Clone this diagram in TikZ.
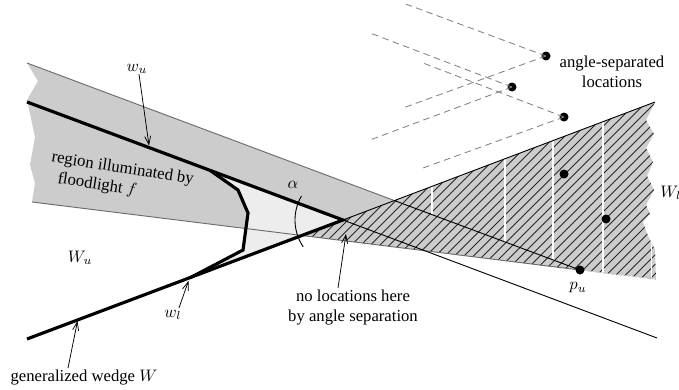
\documentclass[tikz,border=0pt]{standalone}
\usepackage{fontspec}
\setmainfont{Liberation Serif}
\usetikzlibrary{arrows.meta}
\definecolor{fl}{gray}{0.80}
\definecolor{lt}{gray}{0.93}
\definecolor{edgec}{gray}{0.42}
\definecolor{dsh}{gray}{0.50}
\begin{document}
\begin{tikzpicture}[x=0.6pt,y=-0.6pt,
  thickl/.style={line width=1.9pt, line join=miter},
  thinl/.style={line width=0.55pt},
  lbl/.style={font=\fontsize{10}{12}\selectfont, inner sep=0pt},
  arr/.style={line width=0.45pt, -{Straight Barb[length=5pt,width=3.6pt]}},
  dot/.style={circle, fill=black, inner sep=0pt, minimum size=5.4pt},
  dashl/.style={dsh, line width=0.5pt, dash pattern=on 4pt off 2.6pt},
  hatch/.style={black!85, line width=0.45pt},
  wline/.style={white, line width=0.7pt}]
\clip (0,0) rectangle (679,389);
% key points
\coordinate (pu) at (580,270);
\coordinate (apex) at (343,220);
\coordinate (P1) at (302,235.5);
\coordinate (Q) at (394.5,200.6);
\coordinate (WLend) at (655,102);
\coordinate (WLstart) at (27,339);
\coordinate (WUstart) at (27,102);
\coordinate (WUend) at (657,338);
\coordinate (BR) at (656,279.4);
\coordinate (FU) at (27,63);
\coordinate (FL) at (32,202);
\coordinate (K1) at (210,170.3);
\coordinate (K2) at (238,190);
\coordinate (K3) at (248,213);
\coordinate (K4) at (243,250);
\coordinate (K5) at (190,277.8);
% floodlight region
\fill[fl] (FU) -- (38,81) -- (27,100) -- (35,137) -- (30,165) -- (35,183) -- (FL) -- (pu) -- cycle;
% W_l region
\def\zig{(WLend) -- (646,120) -- (654,134) -- (646,148) -- (653,162) -- (647,176) -- (654,190) -- (646,205) -- (650,214) -- (643,222) -- (648,236) -- (655,250) -- (BR)}
\fill[fl] (P1) -- (apex) -- \zig -- (pu) -- cycle;
\begin{scope}
  \clip (P1) -- (apex) -- \zig -- (pu) -- cycle;
  \foreach \c in {530,539.5,...,950} \draw[hatch] (\c-300,300) -- (\c-80,80);
\end{scope}
% white seams
\draw[wline] (432,186.4) -- (432,214.6);
\draw[wline] (505,158.8) -- (505,241.9);
\draw[wline] (553,140.7) -- (553,259.9);
\draw[wline] (603,121.7) -- (603,272.9);
\draw[wline] (651.5,236) -- (651.5,279);
% lightly shaded part of the wedge
\fill[lt] (K1) -- (K2) -- (K3) -- (K4) -- (K5) -- (apex) -- cycle;
% floodlight edges
\draw[edgec, thinl] (FU) -- (Q);
\draw[thinl] (Q) -- (pu);
\draw[edgec, thinl] (FL) -- (pu);
\draw[gray!45, line width=0.5pt, dash pattern=on 3pt off 1.5pt] (pu) -- (BR);
% wedge lines
\draw[thinl] (apex) -- (WLend);
\draw[thinl] (apex) -- (WUend);
\draw[thickl] (WUstart) -- (apex) -- (WLstart);
\draw[thickl] (K1) -- (K2) -- (K3) -- (K4) -- (K5);
% alpha arc
\draw[thinl] (apex) ++(146:48) arc[start angle=146, end angle=210, radius=48];
% angle-separated locations
\node[dot] (d1) at (546,56) {};
\node[dot] (d2) at (512,87) {};
\node[dot] (d3) at (564,117) {};
\coordinate (e1a) at (403,3);
\coordinate (e1b) at (403,108);
\coordinate (e2a) at (370,33);
\coordinate (e2b) at (370,140);
\coordinate (e3a) at (423,63);
\coordinate (e3b) at (423,168);
\draw[dashl] (d1.center) -- (e1a);
\draw[dashl] (d1.center) -- (e1b);
\draw[dashl] (d2.center) -- (e2a);
\draw[dashl] (d2.center) -- (e2b);
\draw[dashl] (d3.center) -- (e3a);
\draw[dashl] (d3.center) -- (e3b);
\node[dot] (d4) at (564,174) {};
\node[dot] (d5) at (606,219) {};
\node[dot] (dpu) at (pu) {};
% labels
\node[lbl] (lwu) at (137,69) {$w_u$};
\node[lbl] (lalpha) at (293,185) {$\alpha$};
\node[lbl] (lWu) at (80,258) {$W_u$};
\node[lbl] (lwl) at (173,315) {$w_l$};
\node[lbl] (lW) at (84,378) {generalized wedge $W$};
\node[lbl, align=center] (lno) at (353,308) {no locations here\\by angle separation};
\node[lbl] (lpu) at (578,288) {$p_u$};
\node[lbl, anchor=west] (lWl) at (660,193) {$W_l$};
\node[lbl, align=center] (lang) at (612,72) {angle-separated\\locations};
\node[lbl, align=left, rotate=-9] (lreg) at (121,179) {region illuminated by\\\hspace*{5.5pt}floodlight $f$};
% arrows
\coordinate (t1) at (149,145.5);
\coordinate (t2) at (188.5,281);
\coordinate (t3) at (77.5,321);
\coordinate (t4) at (346,234);
\draw[arr] (lwu.south) ++(2,0) -- (t1);
\draw[arr] (lwl.north) ++(6,-2) -- (t2);
\draw[arr] (lW.north) ++(-16,-2) -- (t3);
\draw[arr] (lno.north) ++(-15,-2) -- (t4);
\end{tikzpicture}
\end{document}
